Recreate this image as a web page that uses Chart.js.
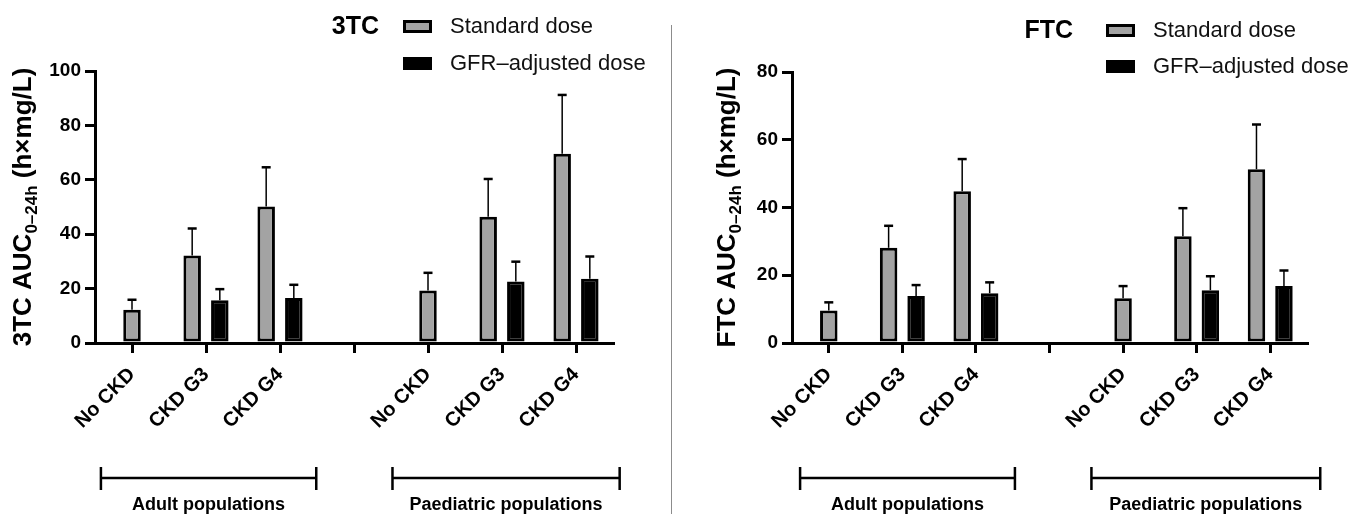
<!DOCTYPE html>
<html>
<head>
<meta charset="utf-8">
<script src="https://cdn.jsdelivr.net/npm/chart.js@4"></script>
<style>
  html, body { margin: 0; padding: 0; background: #fff; }
  #wrap { position: relative; width: 1350px; height: 514px; overflow: hidden; }
  #leftBox { position: absolute; left: 0; top: 0; width: 668px; height: 514px; }
  #rightBox { position: absolute; left: 668px; top: 0; width: 682px; height: 514px; }
  #divider { position: absolute; left: 671px; top: 25px; width: 1px; height: 489px; background: #8c8c8c; }
</style>
</head>
<body>
<div id="wrap">
  <div id="leftBox"><canvas id="chart3tc"></canvas></div>
  <div id="divider"></div>
  <div id="rightBox"><canvas id="chartFtc"></canvas></div>
</div>
<script>
// Categories (index 3 is the empty gap between the groups)
const categories = ['No CKD', 'CKD G3', 'CKD G4', '', 'No CKD', 'CKD G3', 'CKD G4'];
const groups = ['Adult populations', 'Paediatric populations'];
const seriesNames = ['Standard dose', 'GFR\u2013adjusted dose'];

// 3TC AUC (mean) and upper error (SD)
const std3TC = [12.2, 32.2, 50.2, null, 19.3, 46.4, 69.6];
const stdErr3TC = [3.7, 9.9, 14.4, null, 6.5, 13.9, 21.6];
const gfr3TC = [null, 15.7, 16.5, null, null, 22.6, 23.6];
const gfrErr3TC = [null, 4.1, 4.9, null, null, 7.3, 8.2];

// FTC AUC (mean) and upper error (SD)
const stdFTC = [9.6, 28.1, 44.8, null, 13.2, 31.5, 51.3];
const stdErrFTC = [2.4, 6.5, 9.5, null, 3.6, 8.3, 13.2];
const gfrFTC = [null, 13.9, 14.7, null, null, 15.6, 16.8];
const gfrErrFTC = [null, 3.2, 3.2, null, null, 4.1, 4.6];

Chart.defaults.font.family = '"Liberation Sans", Arial, sans-serif';
Chart.defaults.color = '#000';

// Error bars, only the upper half
const errorBars = {
    id: 'errorBars',
    afterDatasetsDraw(chart) {
        const ctx = chart.ctx;
        const yScale = chart.scales.y;
        chart.data.datasets.forEach((ds, i) => {
            const meta = chart.getDatasetMeta(i);
            meta.data.forEach((bar, j) => {
                const v = ds.data[j];
                const e = ds.errors[j];
                if (v == null || e == null) return;
                const top = yScale.getPixelForValue(v + e);
                ctx.save();
                ctx.strokeStyle = '#000';
                ctx.lineWidth = 1.5;
                ctx.beginPath();
                ctx.moveTo(bar.x, bar.y);
                ctx.lineTo(bar.x, top);
                ctx.stroke();
                ctx.lineWidth = 2.5;
                ctx.beginPath();
                ctx.moveTo(bar.x - 4.5, top);
                ctx.lineTo(bar.x + 4.5, top);
                ctx.stroke();
                ctx.restore();
            });
        });
    }
};

// Y axis title with subscript
const axisTitle = {
    id: 'axisTitle',
    afterDraw(chart, args, opts) {
        const ctx = chart.ctx;
        const area = chart.chartArea;
        const big = 'bold 26px "Liberation Sans", Arial, sans-serif';
        const small = 'bold 17px "Liberation Sans", Arial, sans-serif';
        const parts = [[opts.main, big, 0], [opts.sub, small, 6], [opts.tail, big, 0]];
        let total = 0;
        parts.forEach(p => { ctx.font = p[1]; total += ctx.measureText(p[0]).width; });
        ctx.save();
        ctx.translate(opts.x, (area.top + area.bottom) / 2);
        ctx.rotate(-Math.PI / 2);
        ctx.fillStyle = '#000';
        ctx.textBaseline = 'alphabetic';
        ctx.textAlign = 'left';
        let pos = -total / 2;
        parts.forEach(p => {
            ctx.font = p[1];
            ctx.fillText(p[0], pos, p[2]);
            pos += ctx.measureText(p[0]).width;
        });
        ctx.restore();
    }
};

// Legend with the drug name on the left
const doseLegend = {
    id: 'doseLegend',
    afterDraw(chart, args, opts) {
        const ctx = chart.ctx;
        ctx.save();
        ctx.fillStyle = '#000';
        ctx.textBaseline = 'alphabetic';
        ctx.font = 'bold 25px "Liberation Sans", Arial, sans-serif';
        ctx.textAlign = 'right';
        ctx.fillText(opts.title, opts.titleRight, opts.rows[0] + 1);
        ctx.textAlign = 'left';
        ctx.font = '22px "Liberation Sans", Arial, sans-serif';
        chart.data.datasets.forEach((ds, i) => {
            const base = opts.rows[i];
            ctx.fillStyle = ds.backgroundColor;
            ctx.fillRect(opts.boxX, base - 13, 29, 13);
            ctx.strokeStyle = '#000';
            ctx.lineWidth = 3;
            ctx.strokeRect(opts.boxX + 1.5, base - 11.5, 26, 10);
            ctx.fillStyle = '#111';
            ctx.fillText(ds.label, opts.textX, base);
        });
        ctx.restore();
    }
};

// Brackets under the categories
const groupBrackets = {
    id: 'groupBrackets',
    afterDraw(chart, args, opts) {
        const ctx = chart.ctx;
        const xScale = chart.scales.x;
        const step = xScale.getPixelForValue(1) - xScale.getPixelForValue(0);
        ctx.save();
        ctx.strokeStyle = '#000';
        ctx.fillStyle = '#000';
        ctx.lineWidth = 2.5;
        ctx.font = 'bold 18px "Liberation Sans", Arial, sans-serif';
        ctx.textAlign = 'center';
        ctx.textBaseline = 'alphabetic';
        opts.items.forEach((g, k) => {
            const x0 = xScale.getPixelForValue(g.from) + g.start * step;
            const x1 = xScale.getPixelForValue(g.to) + g.end * step;
            ctx.beginPath();
            ctx.moveTo(x0, opts.y);
            ctx.lineTo(x1, opts.y);
            ctx.moveTo(x0, opts.y - 11);
            ctx.lineTo(x0, opts.y + 12);
            ctx.moveTo(x1, opts.y - 11);
            ctx.lineTo(x1, opts.y + 12);
            ctx.stroke();
            ctx.fillText(groups[k], (x0 + x1) / 2, opts.textY);
        });
        ctx.restore();
    }
};

function makeChart(id, cfg) {
    const ctx = document.getElementById(id).getContext('2d');
    return new Chart(ctx, {
        type: 'bar',
        data: {
            labels: categories,
            datasets: [{
                label: seriesNames[0],
                data: cfg.std,
                errors: cfg.stdErr,
                backgroundColor: '#a3a3a3',
                borderColor: '#000',
                borderWidth: 3,
                borderSkipped: false
            }, {
                label: seriesNames[1],
                data: cfg.gfr,
                errors: cfg.gfrErr,
                backgroundColor: '#000',
                borderColor: '#000',
                borderWidth: 3,
                borderSkipped: false
            }]
        },
        options: {
            responsive: true,
            maintainAspectRatio: false,
            animation: false,
            skipNull: true,
            categoryPercentage: 0.747,
            barPercentage: 0.64,
            maxBarThickness: 17.5,
            layout: {
                padding: { top: cfg.top, right: cfg.padRight, left: 0, bottom: 0 }
            },
            scales: {
                x: {
                    afterFit: s => { s.height = 171; },
                    border: { display: true, color: '#000', width: 3 },
                    grid: { drawOnChartArea: false, offset: false, drawTicks: true, tickLength: 10, color: '#000', lineWidth: 3 },
                    ticks: {
                        minRotation: 45, maxRotation: 45, autoSkip: false,
                        color: '#000', padding: 10,
                        font: { size: 20, weight: 'bold' }
                    }
                },
                y: {
                    min: 0,
                    max: cfg.yMax,
                    afterFit: s => { s.width = cfg.yWidth; },
                    border: { display: true, color: '#000', width: 3 },
                    grid: { drawOnChartArea: false, drawTicks: true, tickLength: 10, color: '#000', lineWidth: 3 },
                    ticks: {
                        stepSize: 20, color: '#000', padding: 4,
                        font: { size: 19, weight: 'bold' }
                    }
                }
            },
            plugins: {
                legend: { display: false },
                tooltip: { enabled: false },
                axisTitle: cfg.axisTitle,
                doseLegend: cfg.legend,
                groupBrackets: cfg.brackets
            }
        },
        plugins: [errorBars, axisTitle, doseLegend, groupBrackets]
    });
}

makeChart('chart3tc', {
    std: std3TC, stdErr: stdErr3TC, gfr: gfr3TC, gfrErr: gfrErr3TC,
    yMax: 100, yWidth: 95, top: 71, padRight: 55,
    axisTitle: { main: '3TC AUC', sub: '0\u201324h', tail: ' (h\u00d7mg/L)', x: 31 },
    legend: { title: '3TC', titleRight: 379, boxX: 403, textX: 450, rows: [33, 70] },
    brackets: {
        y: 478, textY: 510,
        items: [
            { from: 0, to: 2, start: -0.42, end: 0.49 },
            { from: 4, to: 6, start: -0.48, end: 0.59 }
        ]
    }
});

makeChart('chartFtc', {
    std: stdFTC, stdErr: stdErrFTC, gfr: gfrFTC, gfrErr: gfrErrFTC,
    yMax: 80, yWidth: 124, top: 72, padRight: 43,
    axisTitle: { main: 'FTC AUC', sub: '0\u201324h', tail: ' (h\u00d7mg/L)', x: 67 },
    legend: { title: 'FTC', titleRight: 405, boxX: 438, textX: 485, rows: [37, 73] },
    brackets: {
        y: 478, textY: 510,
        items: [
            { from: 0, to: 2, start: -0.39, end: 0.53 },
            { from: 4, to: 6, start: -0.43, end: 0.68 }
        ]
    }
});
</script>
</body>
</html>
